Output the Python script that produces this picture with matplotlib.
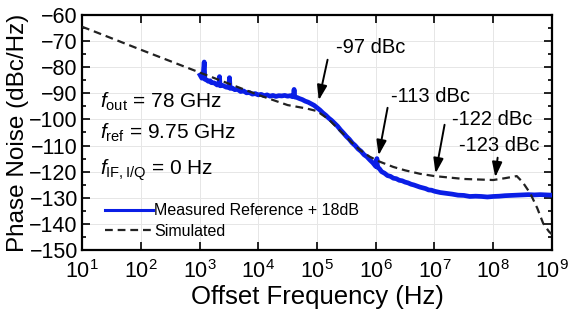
import matplotlib
matplotlib.use("Agg")
import matplotlib.pyplot as plt
import numpy as np

plt.rcParams['font.family'] = ['Liberation Sans', 'DejaVu Sans']
plt.rcParams['mathtext.fontset'] = 'custom'
plt.rcParams['mathtext.rm'] = 'Liberation Sans'
plt.rcParams['mathtext.it'] = 'Liberation Sans:italic'

# Simulated phase noise: log10(offset Hz), dBc/Hz
sim_logf = [1.0, 1.14, 2.0, 3.0, 4.0, 4.5, 4.82, 5.0, 5.2, 5.4, 5.6, 5.73, 5.9,
            6.07, 6.3, 6.5, 6.75, 7.0, 7.5, 8.0, 8.2, 8.4, 8.5, 8.63, 8.75, 8.85, 8.95, 9.0]
sim_pn = [-64.5, -65.7, -73.3, -82.0, -90.6, -94.5, -95.8, -96.8, -100.0, -104.5, -109.0,
          -111.7, -114.3, -116.2, -118.2, -119.5, -120.8, -121.7, -122.8, -123.2, -122.5,
          -121.7, -124.0, -128.3, -134.0, -139.8, -143.0, -144.0]

# Measured reference + 18 dB: log10(offset Hz), dBc/Hz
meas_logf = [3.01, 3.04, 3.06, 3.08, 3.09, 3.12, 3.15, 3.18, 3.2, 3.25, 3.3, 3.33, 3.34,
             3.35, 3.4, 3.45, 3.5, 3.51, 3.52, 3.56, 3.6, 3.65, 3.7, 3.75, 3.8, 3.85, 3.9,
             3.95, 4.0, 4.05, 4.1, 4.15, 4.2, 4.25, 4.3, 4.35, 4.4, 4.45, 4.5, 4.55, 4.58,
             4.6, 4.61, 4.62, 4.66, 4.7, 4.75, 4.8, 4.85, 4.9, 4.95, 5.0, 5.05, 5.1, 5.15,
             5.2, 5.25, 5.3, 5.35, 5.4, 5.45, 5.5, 5.55, 5.6, 5.65, 5.7, 5.75, 5.8, 5.85,
             5.9, 5.95, 6.0, 6.01, 6.02, 6.03, 6.06, 6.1, 6.15, 6.2, 6.25, 6.3, 6.35, 6.4,
             6.45, 6.5, 6.55, 6.6, 6.65, 6.7, 6.75, 6.8, 6.85, 6.9, 6.95, 7.0, 7.1, 7.2,
             7.3, 7.4, 7.5, 7.6, 7.7, 7.8, 7.9, 8.0, 8.1, 8.2, 8.3, 8.4, 8.5, 8.6, 8.7,
             8.8, 8.9, 9.0]
meas_pn = [-83.0, -84.2, -83.6, -78.0, -84.6, -84.9, -85.4, -85.2, -85.9, -86.0, -86.8,
           -86.6, -83.6, -87.1, -87.0, -87.6, -87.8, -84.0, -88.1, -88.0, -88.6, -88.5,
           -89.3, -89.1, -89.8, -89.7, -90.3, -90.1, -90.6, -90.4, -90.9, -90.6, -91.1,
           -90.8, -91.2, -90.9, -91.0, -90.8, -91.1, -90.9, -91.3, -91.0, -88.5, -91.4,
           -91.6, -92.0, -92.4, -93.0, -93.4, -94.0, -94.6, -95.5, -96.4, -97.5, -98.4,
           -99.5, -100.4, -101.5, -102.6, -104.0, -105.2, -106.5, -107.6, -109.0, -110.0,
           -111.3, -112.2, -113.5, -114.3, -115.5, -116.6, -118.0, -116.5, -115.0, -118.3,
           -118.8, -120.0, -120.6, -121.5, -121.8, -122.5, -122.7, -123.3, -123.5, -124.0,
           -124.3, -124.8, -125.1, -125.5, -125.9, -126.2, -126.5, -127.0, -127.1, -127.5,
           -128.0, -128.3, -128.6, -129.0, -129.1, -129.5, -129.4, -129.5, -129.7, -129.5,
           -129.4, -129.2, -129.1, -129.0, -128.9, -128.8, -128.9, -128.8, -128.9, -129.0]

# Annotations: label, text position (log10 f, dBc/Hz), arrow start, arrow tip
ann_labels = ['-97 dBc', '-113 dBc', '-122 dBc', '-123 dBc']
ann_text = [(5.32, -72.6), (6.26, -91.4), (7.29, -100.2), (7.41, -109.8)]
ann_start = [(5.19, -76.1), (6.21, -94.5), (7.18, -101.0), (8.08, -113.6)]
ann_tip = [(5.02, -93.7), (6.04, -114.8), (7.01, -121.7), (8.03, -123.2)]

fig = plt.figure(figsize=(5.68, 3.21), dpi=100)
ax = fig.add_axes([0.1444, 0.2212, 0.8274, 0.7321])

ax.plot(10 ** np.array(meas_logf), meas_pn, color='#0a1ee6', lw=3.4,
        label='Measured Reference + 18dB', zorder=3)
ax.plot(10 ** np.array(sim_logf), sim_pn, color='#222222', lw=1.6,
        ls=(0, (3.5, 2.2)), label='Simulated', zorder=4)

ax.set_xscale('log')
ax.set_xlim(10, 1e9)
ax.set_ylim(-150, -60)
ax.set_xticks([10 ** k for k in range(1, 10)])
ax.set_xticklabels([r'$10^{%d}$' % k for k in range(1, 10)])
ax.set_yticks(np.arange(-150, -59, 10))
ax.set_yticks(np.arange(-145, -59, 10), minor=True)
ax.grid(True, which='major', color='#e6e6e6', lw=0.7, zorder=0)

ax.tick_params(which='both', direction='in', top=True, right=True, width=1.2)
ax.tick_params(which='major', length=6, labelsize=15.5)
ax.tick_params(axis='x', which='major', pad=7)
ax.tick_params(axis='y', which='major', pad=3)
ax.tick_params(which='minor', length=3)
for s in ax.spines.values():
    s.set_linewidth(1.6)

ax.set_xlabel('Offset Frequency (Hz)', fontsize=18.5, labelpad=2)
ax.set_ylabel('Phase Noise (dBc/Hz)', fontsize=17.5, labelpad=0.5)

ax.text(10 ** 1.3, -95.5, r'$f_{\rm out}$ = 78 GHz', fontsize=15)
ax.text(10 ** 1.3, -107.5, r'$f_{\rm ref}$ = 9.75 GHz', fontsize=15)
ax.text(10 ** 1.3, -121, r'$f_{\rm IF,I/Q}$ = 0 Hz', fontsize=15)

for lab, tp, st, tip in zip(ann_labels, ann_text, ann_start, ann_tip):
    ax.text(10 ** tp[0], tp[1], lab, fontsize=14.5, va='center', ha='left')
    ax.annotate('', xy=(10 ** tip[0], tip[1]), xytext=(10 ** st[0], st[1]),
                arrowprops=dict(arrowstyle='-|>,head_length=0.9,head_width=0.3',
                                color='black', lw=1.4), zorder=6)

leg = ax.legend(loc='lower left', bbox_to_anchor=(0.025, 0.0), frameon=False,
                fontsize=11.5, handlelength=3.0, handletextpad=0.1,
                labelspacing=0.35, borderaxespad=0.3)
leg.get_lines()[0].set_linewidth(2.2)

fig.savefig('out.png', dpi=100)
